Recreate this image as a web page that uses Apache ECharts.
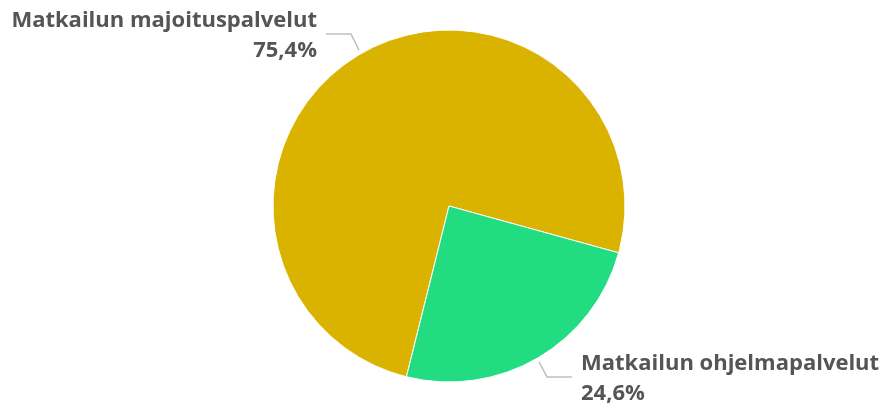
<!DOCTYPE html>
<html>
<head>
<meta charset="utf-8">
<script src="https://cdn.jsdelivr.net/npm/echarts@6/dist/echarts.min.js"></script>
<style>
html,body{margin:0;padding:0;background:#fff;}
#main{width:884px;height:406px;}
</style>
</head>
<body>
<div id="main"></div>
<script>
const categories = ['Matkailun majoituspalvelut', 'Matkailun ohjelmapalvelut'];
const values = [75.4, 24.6];
const colors = ['#D9B300', '#22DC82'];

const CX = 449, CY = 206, R = 176;
const chart = echarts.init(document.getElementById('main'), null, {renderer: 'canvas'});

function layout(params) {
  const up = params.dataIndex === 0;
  const a = 30 * Math.PI / 180;
  const sx = up ? CX - (R + 4) * Math.sin(a) : CX + (R + 4) * Math.sin(a);
  const sy = up ? CY - (R + 4) * Math.cos(a) : CY + (R + 4) * Math.cos(a);
  const mx = up ? sx - 8 : sx + 8;
  const my = up ? sy - 16 : sy + 15;
  const ex = up ? mx - 25 : mx + 25;
  return {
    x: up ? ex - 9 : ex + 9,
    y: my + 2,
    align: up ? 'right' : 'left',
    verticalAlign: 'middle',
    labelLinePoints: [[sx, sy], [mx, my], [ex, my]]
  };
}

chart.setOption({
  animation: false,
  series: [{
    type: 'pie',
    center: [CX, CY],
    radius: R,
    startAngle: -104,
    clockwise: true,
    data: categories.map((c, i) => ({name: c, value: values[i], itemStyle: {color: colors[i]}})),
    itemStyle: {borderColor: '#fff', borderWidth: 1},
    label: {
      show: true,
      overflow: 'none',
      edgeDistance: 0,
      formatter: p => p.name + '\n' + p.percent.toFixed(1).replace('.', ',') + '%',
      fontFamily: 'Open Sans',
      fontWeight: 'bold',
      fontSize: 22,
      lineHeight: 30,
      color: '#555555'
    },
    labelLine: {show: true, lineStyle: {color: '#c0c0c0', width: 1.5}},
    labelLayout: layout
  }]
});
</script>
</body>
</html>
